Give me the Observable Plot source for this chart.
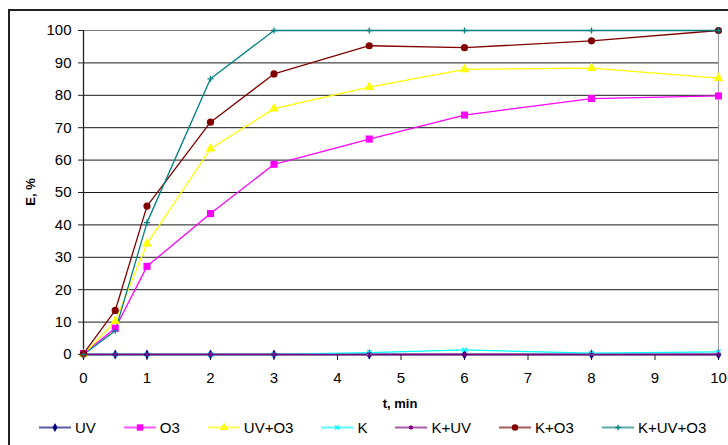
<!DOCTYPE html>
<html><head><meta charset="utf-8">
<script src="https://cdn.jsdelivr.net/npm/d3@7"></script>
<script src="https://cdn.jsdelivr.net/npm/@observablehq/plot@0.6"></script>
<style>
body{margin:0;width:728px;height:445px;overflow:hidden;background:#fff;font-family:"Liberation Sans",Arial,sans-serif;position:relative}
#chart{position:absolute;left:0;top:0}
#frame{position:absolute;left:8px;top:9px;width:800px;height:500px;border:2px solid #222;pointer-events:none}
#legend{position:absolute;left:39px;top:419px;height:17px;display:flex;align-items:center;font-size:15px;line-height:17px;color:#000;white-space:nowrap}
.item{display:flex;align-items:center;margin-right:28px}
.item svg{margin-right:4px;display:block}
#xlabel{position:absolute;left:400px;top:397px;transform:translateX(-50%);font-size:13px;line-height:13px;font-weight:bold}
#ylabel{position:absolute;left:30px;top:192px;transform:translate(-50%,-50%) rotate(-90deg);font-size:13px;line-height:13px;font-weight:bold;white-space:nowrap}
</style></head><body>
<div id="chart"></div>
<div id="xlabel">t, min</div>
<div id="ylabel">E, %</div>
<div id="legend"></div>
<div id="frame"></div>
<script>
// time points (min)
const times = [0, 0.5, 1, 2, 3, 4.5, 6, 8, 10];
// series values E, %
const uv    = [0, 0, 0, 0, 0, 0, 0, 0, 0];
const o3    = [0.3, 8.1, 27.2, 43.5, 58.7, 66.5, 73.9, 79.0, 79.8];
const uvO3  = [0, 10.3, 34.2, 63.5, 75.9, 82.5, 88.0, 88.4, 85.3];
const k     = [0, 0, 0, 0, 0, 0.6, 1.4, 0.4, 0.8];
const kUv   = [0, 0, 0, 0, 0, 0, 0, 0, 0];
const kO3   = [0.3, 13.6, 45.8, 71.7, 86.6, 95.3, 94.7, 96.8, 100];
const kUvO3 = [0, 7.3, 40.7, 85.1, 100, 100, 100, 100, 100];

const seriesNames   = ["UV", "O3", "UV+O3", "K", "K+UV", "K+O3", "K+UV+O3"];
const seriesValues  = [uv, o3, uvO3, k, kUv, kO3, kUvO3];
const seriesColors  = ["#000080", "#FF00FF", "#FFFF00", "#00FFFF", "#800080", "#800000", "#008080"];
const seriesSymbols = ["diamond", "square", "triangle", "times", "asterisk", "circle", "plus"];
const symbolFilled  = [true, true, true, false, false, true, false];
const symbolRadius  = [3.0, 4.0, 3.6, 2.2, 2.4, 3.6, 2.1];

const yTicks = [0, 10, 20, 30, 40, 50, 60, 70, 80, 90, 100];
const xTicks = [0, 1, 2, 3, 4, 5, 6, 7, 8, 9, 10];

const rows = seriesNames.map((name, i) => times.map((t, j) => ({t, E: seriesValues[i][j], series: name})));

const marks = [
  Plot.ruleY(yTicks.filter(v => v > 0 && v < 100), {stroke: "#1a1a1a", strokeWidth: 1}),
  Plot.ruleY([100], {stroke: "#808080", strokeWidth: 1}),
  Plot.ruleX([10], {y1: 0, y2: 100, stroke: "#999", strokeWidth: 1}),
  Plot.ruleX([0], {y1: 0, y2: 100, stroke: "#222", strokeWidth: 1.3}),
  Plot.ruleY([0], {stroke: "#222", strokeWidth: 1.3}),
  Plot.axisY({ticks: yTicks, tickSize: 5, tickPadding: 7, fontSize: 15, label: null, stroke: "#222"}),
  Plot.axisX({ticks: xTicks, tickSize: 6, tickPadding: 12, fontSize: 15, label: null, stroke: "#222"})
];
rows.forEach((r, i) => {
  marks.push(Plot.line(r, {x: "t", y: "E", stroke: seriesColors[i], strokeWidth: 1.3}));
});
rows.forEach((r, i) => {
  const opts = {x: "t", y: "E", symbol: seriesSymbols[i], r: symbolRadius[i]};
  if (symbolFilled[i]) { opts.fill = seriesColors[i]; opts.stroke = "none"; }
  else { opts.stroke = seriesColors[i]; opts.fill = "none"; opts.strokeWidth = 1.3; }
  marks.push(Plot.dot(r, opts));
});

const chart = Plot.plot({
  width: 728,
  height: 410,
  marginLeft: 83,
  marginRight: 10,
  marginTop: 30,
  marginBottom: 56,
  style: {fontFamily: "'Liberation Sans', Arial, sans-serif", fontSize: "15px", background: "transparent", color: "#000"},
  x: {type: "linear", domain: [0, 10]},
  y: {domain: [0, 100]},
  marks
});
document.getElementById("chart").appendChild(chart);

// legend
const legend = document.getElementById("legend");
const symMap = {diamond: d3.symbolDiamond, square: d3.symbolSquare, triangle: d3.symbolTriangle, times: d3.symbolTimes, asterisk: d3.symbolAsterisk, circle: d3.symbolCircle, plus: d3.symbolPlus};
seriesNames.forEach((name, i) => {
  const item = document.createElement("div");
  item.className = "item";
  const r = symbolRadius[i] * 0.9;
  const path = d3.symbol(symMap[seriesSymbols[i]], Math.PI * r * r)();
  const sym = symbolFilled[i]
    ? `<path d="${path}" transform="translate(16,8.5)" fill="${seriesColors[i]}"/>`
    : `<path d="${path}" transform="translate(16,8.5)" fill="none" stroke="${seriesColors[i]}" stroke-width="1.3"/>`;
  item.innerHTML = `<svg width="32" height="17"><line x1="0" x2="32" y1="8.5" y2="8.5" stroke="${seriesColors[i]}" stroke-opacity="0.65" stroke-width="2"/>${sym}</svg><span>${name}</span>`;
  legend.appendChild(item);
});
</script>
</body></html>
